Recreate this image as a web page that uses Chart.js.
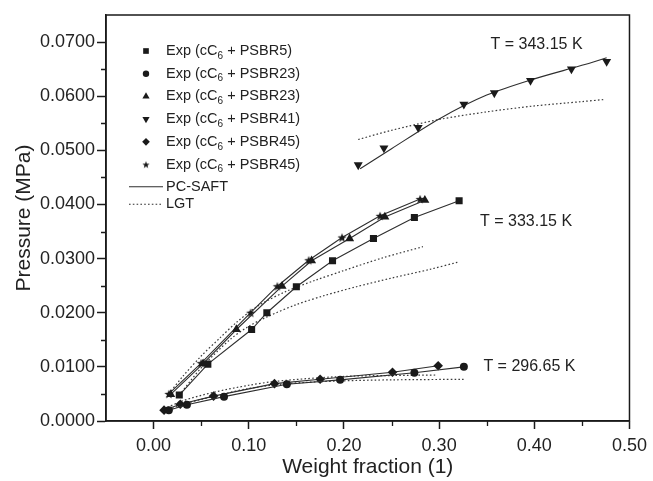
<!DOCTYPE html>
<html>
<head>
<meta charset="utf-8">
<script src="https://cdn.jsdelivr.net/npm/chart.js@4.4.0/dist/chart.umd.min.js"></script>
<style>
  html, body { margin: 0; padding: 0; background: #fff; }
  #wrap { width: 653px; height: 481px; }
</style>
</head>
<body>
<div id="wrap"><canvas id="chart" width="653" height="481"></canvas></div>
<script>
// axis ticks
const xTicks = [0, 0.1, 0.2, 0.3, 0.4, 0.5];
const xMinorTicks = [0.05, 0.15, 0.25, 0.35, 0.45];
const yTicks = [0, 0.01, 0.02, 0.03, 0.04, 0.05, 0.06, 0.07];
const yMinorTicks = [0.005, 0.015, 0.025, 0.035, 0.045, 0.055, 0.065];

// legend polymers, in series order
const polymers = ['PSBR5', 'PSBR23', 'PSBR23', 'PSBR41', 'PSBR45', 'PSBR45'];

// T = 333.15 K
const psbr5X = [0.027, 0.057, 0.103, 0.119, 0.150, 0.188, 0.231, 0.274, 0.321];
const psbr5Y = [0.0048, 0.0105, 0.0169, 0.0200, 0.0248, 0.0296, 0.0337, 0.0376, 0.0407];
const psbr23hX = [0.018, 0.052, 0.087, 0.135, 0.166, 0.206, 0.243, 0.285];
const psbr23hY = [0.0049, 0.0106, 0.0169, 0.0249, 0.0296, 0.0337, 0.0377, 0.0408];
const psbr45hX = [0.016, 0.050, 0.102, 0.130, 0.163, 0.198, 0.238, 0.280];
const psbr45hY = [0.0050, 0.0107, 0.0200, 0.0249, 0.0297, 0.0339, 0.0379, 0.0410];

// T = 296.65 K
const psbr23lX = [0.016, 0.035, 0.074, 0.140, 0.196, 0.274, 0.326];
const psbr23lY = [0.0020, 0.0030, 0.0045, 0.0068, 0.0076, 0.0089, 0.0100];
const psbr45lX = [0.011, 0.028, 0.063, 0.127, 0.175, 0.251, 0.299];
const psbr45lY = [0.0020, 0.0031, 0.0046, 0.0069, 0.0077, 0.0090, 0.0102];

// T = 343.15 K
const psbr41X = [0.215, 0.242, 0.278, 0.326, 0.358, 0.396, 0.439, 0.476];
const psbr41Y = [0.0473, 0.0504, 0.0542, 0.0585, 0.0606, 0.0629, 0.0650, 0.0664];
const saft41X = [0.217, 0.25, 0.30, 0.35, 0.40, 0.45, 0.476];
const saft41Y = [0.0466, 0.0503, 0.0558, 0.0602, 0.0632, 0.0657, 0.0671];

// LGT curves
const lgt41X = [0.215, 0.25, 0.30, 0.35, 0.40, 0.45, 0.474];
const lgt41Y = [0.0520, 0.0537, 0.0557, 0.0571, 0.0582, 0.0590, 0.0594];
const lgtHighX = [0.016, 0.03, 0.05, 0.07, 0.087, 0.11, 0.14, 0.17, 0.20, 0.24, 0.283];
const lgtHighY = [0.0050, 0.0081, 0.0120, 0.0154, 0.0182, 0.0213, 0.0240, 0.0260, 0.0278, 0.0301, 0.0322];
const lgt5X = [0.027, 0.05, 0.08, 0.10, 0.12, 0.15, 0.18, 0.213, 0.25, 0.29, 0.321];
const lgt5Y = [0.0048, 0.0098, 0.0150, 0.0175, 0.0193, 0.0215, 0.0232, 0.0248, 0.0264, 0.0280, 0.0294];
const lgtLowAX = [0.011, 0.03, 0.063, 0.10, 0.127, 0.175, 0.21, 0.25, 0.298];
const lgtLowAY = [0.0022, 0.0037, 0.0053, 0.0066, 0.0073, 0.0080, 0.0083, 0.0084, 0.0085];
const lgtLowBX = [0.016, 0.035, 0.074, 0.10, 0.14, 0.196, 0.25, 0.326];
const lgtLowBY = [0.0021, 0.0033, 0.0050, 0.0060, 0.0069, 0.0074, 0.0076, 0.0077];

const FONT = '"Liberation Sans", Arial, Helvetica, sans-serif';
const INK = '#1a1a1a';
const TEXT = '#222';

const pts = (xs, ys) => xs.map((x, i) => ({ x: x, y: ys[i] }));

// filled five-point star marker
function starMarker(r) {
    const c = document.createElement('canvas');
    const s = Math.ceil(r * 2 + 2);
    c.width = s; c.height = s;
    const g = c.getContext('2d');
    g.fillStyle = INK;
    g.beginPath();
    for (let i = 0; i < 10; i++) {
        const rad = i % 2 === 0 ? r : r * 0.42;
        const a = -Math.PI / 2 + i * Math.PI / 5;
        g.lineTo(s / 2 + rad * Math.cos(a), s / 2 + 0.5 + rad * Math.sin(a));
    }
    g.closePath();
    g.fill();
    return c;
}
const star = starMarker(4.8);
const legendStar = starMarker(3.8);

const markers = [
    { pointStyle: 'rect', pointRadius: 5, rotation: 0 },
    { pointStyle: 'circle', pointRadius: 4, rotation: 0 },
    { pointStyle: 'triangle', pointRadius: 5.2, rotation: 0 },
    { pointStyle: 'triangle', pointRadius: 5.2, rotation: 180 },
    { pointStyle: 'rectRot', pointRadius: 4.8, rotation: 0 },
    { pointStyle: star, pointRadius: 5, rotation: 0 }
];

function expSet(xs, ys, m, withLine) {
    return {
        data: pts(xs, ys),
        showLine: withLine,
        borderColor: '#2e2e2e',
        borderWidth: 1.1,
        pointStyle: m.pointStyle,
        pointRadius: m.pointRadius,
        pointRotation: m.rotation,
        pointBackgroundColor: INK,
        pointBorderColor: INK,
        pointBorderWidth: 0,
        pointHoverRadius: m.pointRadius,
        order: 1
    };
}

function curveSet(xs, ys, dotted) {
    return {
        data: pts(xs, ys),
        showLine: true,
        borderColor: dotted ? '#3a3a3a' : '#2e2e2e',
        borderWidth: dotted ? 1.2 : 1.1,
        borderDash: dotted ? [1.6, 2.2] : [],
        pointRadius: 0,
        pointHoverRadius: 0,
        tension: 0.3,
        order: dotted ? 3 : 2
    };
}

const datasets = [
    curveSet(lgt41X, lgt41Y, true),
    curveSet(lgtHighX, lgtHighY, true),
    curveSet(lgt5X, lgt5Y, true),
    curveSet(lgtLowAX, lgtLowAY, true),
    curveSet(lgtLowBX, lgtLowBY, true),
    curveSet(saft41X, saft41Y, false),
    expSet(psbr5X, psbr5Y, markers[0], true),
    expSet(psbr23lX, psbr23lY, markers[1], true),
    expSet(psbr23hX, psbr23hY, markers[2], true),
    expSet(psbr41X, psbr41Y, markers[3], false),
    expSet(psbr45lX, psbr45lY, markers[4], true),
    expSet(psbr45hX, psbr45hY, markers[5], true)
];

const annotations = [
    { text: 'T = 343.15 K', x: 0.354, y: 0.0696 },
    { text: 'T = 333.15 K', x: 0.343, y: 0.0368 },
    { text: 'T = 296.65 K', x: 0.3465, y: 0.0100 }
];

const framePlugin = {
    id: 'frame',
    afterDraw(chart) {
        const ctx = chart.ctx;
        const a = chart.chartArea;
        const xs = chart.scales.x, ys = chart.scales.y;
        ctx.save();

        // box around the plot
        ctx.strokeStyle = INK;
        ctx.lineWidth = 1.5;
        ctx.strokeRect(a.left, a.top, a.right - a.left, a.bottom - a.top);

        // minor ticks
        ctx.lineWidth = 1.3;
        ctx.beginPath();
        xMinorTicks.forEach(v => {
            const px = Math.round(xs.getPixelForValue(v)) + 0.5;
            ctx.moveTo(px, a.bottom);
            ctx.lineTo(px, a.bottom + 5);
        });
        yMinorTicks.forEach(v => {
            const py = Math.round(ys.getPixelForValue(v)) + 0.5;
            ctx.moveTo(a.left, py);
            ctx.lineTo(a.left - 5, py);
        });
        ctx.stroke();

        // temperature labels
        ctx.fillStyle = TEXT;
        ctx.font = '16px ' + FONT;
        ctx.textAlign = 'left';
        ctx.textBaseline = 'middle';
        annotations.forEach(t => {
            ctx.fillText(t.text, xs.getPixelForValue(t.x), ys.getPixelForValue(t.y));
        });

        // legend
        const mx = a.left + 40, tx = a.left + 60, top = a.top + 36, step = 22.7;
        polymers.forEach((name, i) => {
            const y = top + i * step;
            const m = markers[i];
            ctx.fillStyle = INK;
            if (Chart.helpers && Chart.helpers.drawPoint) {
                Chart.helpers.drawPoint(ctx, {
                    pointStyle: i === 5 ? legendStar : m.pointStyle,
                    radius: m.pointRadius * 0.8,
                    rotation: m.rotation, borderWidth: 0
                }, mx, y);
            }
            ctx.fillStyle = TEXT;
            let x = tx;
            ctx.font = '14.5px ' + FONT;
            ctx.fillText('Exp (cC', x, y);
            x += ctx.measureText('Exp (cC').width;
            ctx.font = '10px ' + FONT;
            ctx.fillText('6', x, y + 5);
            x += ctx.measureText('6').width;
            ctx.font = '14.5px ' + FONT;
            ctx.fillText(' + ' + name + ')', x, y);
        });
        const ly = top + 6 * step - 0.5;
        ctx.strokeStyle = '#2e2e2e';
        ctx.lineWidth = 1.1;
        ctx.beginPath();
        ctx.moveTo(a.left + 23, ly);
        ctx.lineTo(a.left + 57, ly);
        ctx.stroke();
        ctx.fillText('PC-SAFT', tx, ly);
        const dy = ly + 17.5;
        ctx.setLineDash([1.6, 2.2]);
        ctx.beginPath();
        ctx.moveTo(a.left + 23, dy);
        ctx.lineTo(a.left + 57, dy);
        ctx.stroke();
        ctx.setLineDash([]);
        ctx.fillText('LGT', tx, dy);

        ctx.restore();
    }
};

new Chart(document.getElementById('chart').getContext('2d'), {
    type: 'scatter',
    data: { datasets: datasets },
    options: {
        responsive: false,
        animation: false,
        events: [],
        layout: { padding: { top: 15, right: 20, left: 0, bottom: 0 } },
        plugins: {
            legend: { display: false },
            tooltip: { enabled: false }
        },
        scales: {
            x: {
                type: 'linear',
                min: -0.05,
                max: 0.5,
                afterBuildTicks: scale => { scale.ticks = xTicks.map(v => ({ value: v })); },
                afterFit: scale => { scale.height = 60; },
                ticks: {
                    callback: v => v.toFixed(2),
                    color: TEXT,
                    font: { family: FONT, size: 18 },
                    padding: 6,
                    maxRotation: 0
                },
                grid: {
                    drawOnChartArea: false,
                    drawTicks: true,
                    tickLength: 8,
                    tickColor: INK,
                    tickWidth: 1.5
                },
                border: { color: INK, width: 1.5 },
                title: {
                    display: true,
                    text: 'Weight fraction (1)',
                    color: TEXT,
                    font: { family: FONT, size: 21 },
                    padding: { top: 0, bottom: 1 }
                }
            },
            y: {
                type: 'linear',
                min: 0,
                max: 0.075,
                afterBuildTicks: scale => { scale.ticks = yTicks.map(v => ({ value: v })); },
                afterFit: scale => { scale.width = 106; },
                ticks: {
                    callback: v => v.toFixed(4),
                    color: TEXT,
                    font: { family: FONT, size: 18 },
                    padding: 2
                },
                grid: {
                    drawOnChartArea: false,
                    drawTicks: true,
                    tickLength: 9,
                    tickColor: INK,
                    tickWidth: 1.5
                },
                border: { color: INK, width: 1.5 },
                title: {
                    display: true,
                    text: 'Pressure (MPa)',
                    color: TEXT,
                    font: { family: FONT, size: 21 },
                    padding: { top: 12, bottom: 0 }
                }
            }
        }
    },
    plugins: [framePlugin]
});
</script>
</body>
</html>
